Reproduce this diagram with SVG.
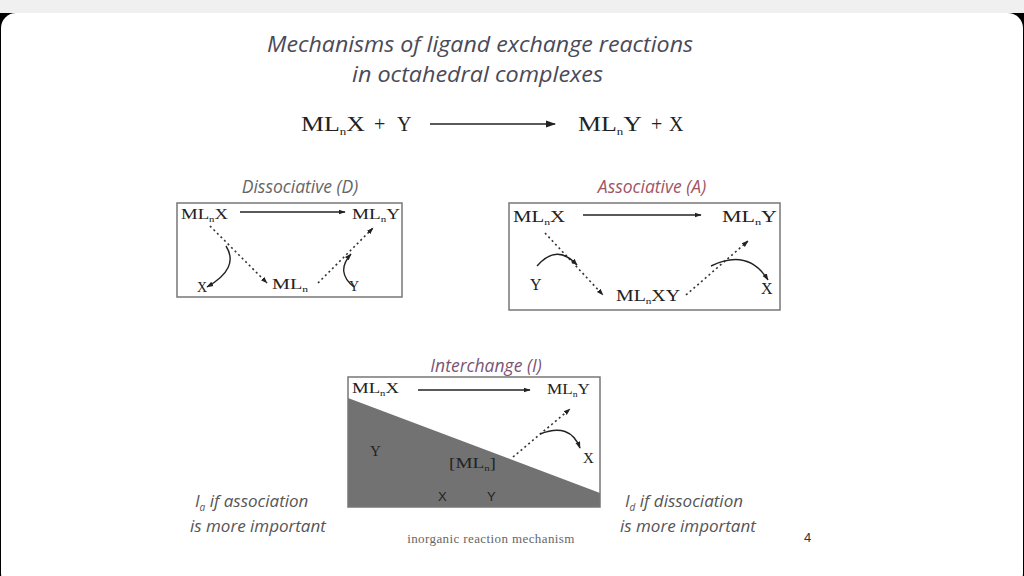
<svg xmlns="http://www.w3.org/2000/svg" width="1024" height="576" viewBox="0 0 1024 576">
<defs>
<marker id="ah" viewBox="0 0 10 10" refX="9" refY="5" markerWidth="7" markerHeight="7" orient="auto" markerUnits="userSpaceOnUse"><path d="M0,1.5 L10,5 L0,8.5 Z" fill="#222"/></marker>
<marker id="ahs" viewBox="0 0 10 10" refX="9" refY="5" markerWidth="10" markerHeight="10" orient="auto" markerUnits="userSpaceOnUse"><path d="M0,1.5 L10,5 L0,8.5 Z" fill="#222"/></marker>
</defs>
<style>
.ti{font-family:"Open Sans","DejaVu Sans",sans-serif;font-style:italic;fill:#4a4a58}
.lab{font-family:"Open Sans","DejaVu Sans",sans-serif;font-style:italic;font-size:17.5px}
.ch{font-family:"Liberation Serif","Times New Roman",serif;fill:#222}
.box{fill:none;stroke:#777;stroke-width:1.5}
.ar{stroke:#222;stroke-width:1.6;fill:none}
.dt{stroke:#333;stroke-width:1.6;fill:none;stroke-dasharray:2 3}
.cv{stroke:#222;stroke-width:1.4;fill:none}
.note{font-family:"Open Sans","DejaVu Sans",sans-serif;font-style:italic;font-size:17px;fill:#555}
</style>
<rect x="0" y="0" width="1024" height="576" fill="#000"/>
<rect x="0" y="0" width="1024" height="13" fill="#f0f0f0"/>
<rect x="1" y="13" width="1022" height="575" rx="15" fill="#fff"/>

<g id="title">
<text class="ti" x="267" y="52" font-size="21.5" textLength="426" lengthAdjust="spacingAndGlyphs">Mechanisms of ligand exchange reactions</text>
<text class="ti" x="352" y="82" font-size="21.5" textLength="251" lengthAdjust="spacingAndGlyphs">in octahedral complexes</text>
</g>

<g id="equation" class="ch" font-size="20">
<text x="301" y="131" textLength="64" lengthAdjust="spacingAndGlyphs">ML<tspan font-size="10" dy="4">n</tspan><tspan dy="-4">X</tspan></text>
<text x="374" y="131">+</text>
<text x="397" y="131">Y</text>
<text x="578" y="131" textLength="64" lengthAdjust="spacingAndGlyphs">ML<tspan font-size="10" dy="4">n</tspan><tspan dy="-4">Y</tspan></text>
<text x="651" y="131">+</text>
<text x="669" y="131">X</text>
</g>

<g id="dissociative">
<text class="lab" x="300" y="193" text-anchor="middle" fill="#666">Dissociative (D)</text>
<rect class="box" x="177" y="203" width="225" height="94"/>
<g class="ch" font-size="14">
<text x="181" y="219" textLength="47" lengthAdjust="spacingAndGlyphs">ML<tspan font-size="8" dy="3">n</tspan><tspan dy="-3">X</tspan></text>
<text x="352" y="219" textLength="48" lengthAdjust="spacingAndGlyphs">ML<tspan font-size="8" dy="3">n</tspan><tspan dy="-3">Y</tspan></text>
<text x="197" y="292">X</text>
<text x="272" y="289" textLength="36" lengthAdjust="spacingAndGlyphs">ML<tspan font-size="8" dy="3">n</tspan></text>
<text x="349" y="291">Y</text>
</g>
</g>

<g id="associative">
<text class="lab" x="652" y="193" text-anchor="middle" fill="#a05565">Associative (A)</text>
<rect class="box" x="509" y="203" width="271" height="107"/>
<g class="ch" font-size="16">
<text x="513" y="222" textLength="52" lengthAdjust="spacingAndGlyphs">ML<tspan font-size="9" dy="3">n</tspan><tspan dy="-3">X</tspan></text>
<text x="722" y="222" textLength="55" lengthAdjust="spacingAndGlyphs">ML<tspan font-size="9" dy="3">n</tspan><tspan dy="-3">Y</tspan></text>
<text x="530" y="290">Y</text>
<text x="616" y="301" textLength="64" lengthAdjust="spacingAndGlyphs">ML<tspan font-size="9" dy="3">n</tspan><tspan dy="-3">XY</tspan></text>
<text x="761" y="294">X</text>
</g>
</g>

<g id="interchange">
<text class="lab" x="486" y="372" text-anchor="middle" fill="#7a5575">Interchange (I)</text>
<polygon points="348,398 600,493 600,507 348,507" fill="#727272"/>
<rect class="box" x="348" y="377" width="252" height="130"/>
<g class="ch" font-size="15">
<text x="352" y="393" textLength="47" lengthAdjust="spacingAndGlyphs">ML<tspan font-size="8.5" dy="3">n</tspan><tspan dy="-3">X</tspan></text>
<text x="547" y="394" textLength="43" lengthAdjust="spacingAndGlyphs">ML<tspan font-size="8.5" dy="3">n</tspan><tspan dy="-3">Y</tspan></text>
<text x="370" y="456">Y</text>
<text x="449" y="468" textLength="47" lengthAdjust="spacingAndGlyphs">[ML<tspan font-size="8.5" dy="3">n</tspan><tspan dy="-3">]</tspan></text>
<text x="438" y="501" font-size="13" font-family="Liberation Sans, Arial, sans-serif">X</text>
<text x="487" y="501" font-size="13" font-family="Liberation Sans, Arial, sans-serif">Y</text>
<text x="583" y="463">X</text>
</g>
</g>

<g id="connectors">
<line class="ar" x1="430" y1="124" x2="555" y2="124" marker-end="url(#ahs)"/>
<line class="ar" x1="240" y1="212" x2="345" y2="212" marker-end="url(#ah)"/>
<line class="dt" x1="210" y1="226" x2="267" y2="283" marker-end="url(#ah)"/>
<path class="cv" d="M226,246 Q240,268 207,287" marker-end="url(#ah)"/>
<line class="dt" x1="318" y1="283" x2="373" y2="228" marker-end="url(#ah)"/>
<path class="cv" d="M354,287 Q335,272 351,254" marker-end="url(#ah)"/>

<line class="ar" x1="583" y1="215" x2="701" y2="215" marker-end="url(#ah)"/>
<line class="dt" x1="545" y1="233" x2="603" y2="295" marker-end="url(#ah)"/>
<path class="cv" d="M537,266 Q557,243 577,265" marker-end="url(#ah)"/>
<line class="dt" x1="686" y1="295" x2="748" y2="241" marker-end="url(#ah)"/>
<path class="cv" d="M711,266 Q748,248 768,280" marker-end="url(#ah)"/>

<line class="ar" x1="418" y1="390" x2="530" y2="390" marker-end="url(#ah)"/>
<line class="dt" x1="513" y1="457" x2="570" y2="409" marker-end="url(#ah)"/>
<path class="cv" d="M540,434 Q570,422 580,448" marker-end="url(#ah)"/>
</g>

<g id="notes">
<text class="note" x="195" y="507">I<tspan font-size="10" dy="4">a</tspan><tspan dy="-4"> if association</tspan></text>
<text class="note" x="190" y="532">is more important</text>
<text class="note" x="625" y="507">I<tspan font-size="10" dy="4">d</tspan><tspan dy="-4"> if dissociation</tspan></text>
<text class="note" x="620" y="532">is more important</text>
<text x="491" y="543" text-anchor="middle" font-family="Liberation Serif, serif" font-size="13" letter-spacing="0.4" fill="#666">inorganic reaction mechanism</text>
<text x="804" y="542" font-family="Liberation Sans, Arial, sans-serif" font-size="13" fill="#333">4</text>
</g>
</svg>
